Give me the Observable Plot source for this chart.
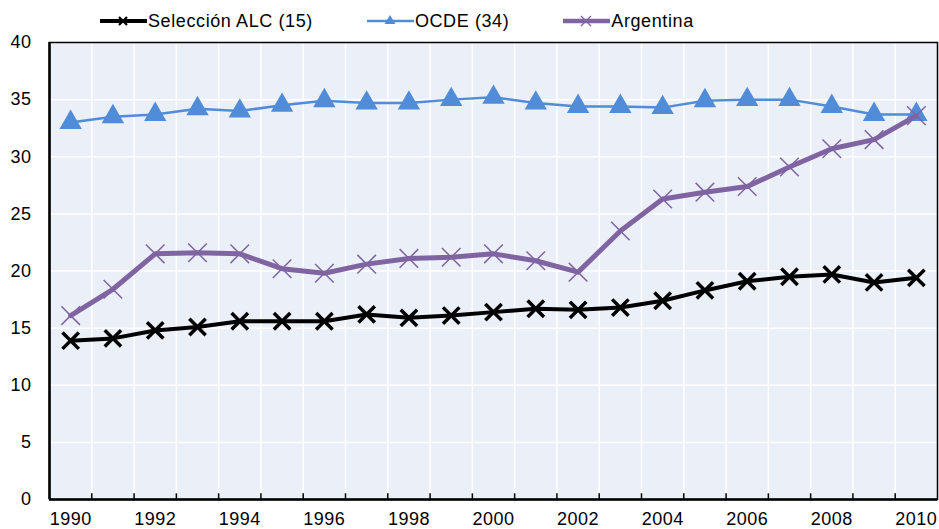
<!DOCTYPE html>
<html>
<head>
<meta charset="utf-8">
<script src="https://cdn.jsdelivr.net/npm/d3@7"></script>
<script src="https://cdn.jsdelivr.net/npm/@observablehq/plot@0.6"></script>
<style>
  body { margin: 0; background: #fff; font-family: "Liberation Sans", Arial, sans-serif; }
  #legend { height: 36px; box-sizing: border-box; padding-top: 6px; padding-left: 100px; display: flex; align-items: center; gap: 54px; font-size: 18px; letter-spacing: 0.6px; color: #000; }
  .item { display: flex; align-items: center; }
  .item svg { display: block; margin-right: 1px; }
  #chart svg { overflow: visible; }
</style>
</head>
<body>
<div id="legend"></div>
<div id="chart"></div>
<script>
const years = [1990,1991,1992,1993,1994,1995,1996,1997,1998,1999,2000,2001,2002,2003,2004,2005,2006,2007,2008,2009,2010];
const alcValues = [13.9,14.1,14.8,15.1,15.6,15.6,15.6,16.2,15.9,16.1,16.4,16.7,16.6,16.8,17.4,18.3,19.1,19.5,19.7,19.0,19.4];
const ocdeValues = [33.0,33.5,33.7,34.2,34.0,34.5,34.9,34.7,34.7,35.0,35.2,34.7,34.4,34.4,34.3,34.9,35.0,35.0,34.4,33.7,33.7];
const argValues = [16.1,18.4,21.5,21.6,21.5,20.2,19.8,20.6,21.1,21.2,21.5,20.9,19.9,23.5,26.3,26.9,27.4,29.1,30.7,31.5,33.6];
const seriesNames = ["Selección ALC (15)", "OCDE (34)", "Argentina"];
const yTicks = [0,5,10,15,20,25,30,35,40];
const xLabels = [1990,1992,1994,1996,1998,2000,2002,2004,2006,2008,2010];

const colors = {alc: "#000000", ocde: "#508CD8", arg: "#8064A2"};

const alc = years.map((y, i) => ({year: y, value: alcValues[i]}));
const ocde = years.map((y, i) => ({year: y, value: ocdeValues[i]}));
const arg = years.map((y, i) => ({year: y, value: argValues[i]}));
const boundaries = years.slice(0, -1).map(y => y + 0.5);

// Legend
const legend = document.getElementById("legend");
const swatches = [
  {name: seriesNames[0], color: colors.alc, width: 4, marker: "x", mw: 2.2, ms: 4},
  {name: seriesNames[1], color: colors.ocde, width: 2.5, marker: "tri"},
  {name: seriesNames[2], color: colors.arg, width: 4.5, marker: "x", mw: 1.3, ms: 5}
];
for (const s of swatches) {
  const div = document.createElement("div");
  div.className = "item";
  let m = "";
  if (s.marker === "x") {
    m = `<path d="M${23-s.ms},${12-s.ms}L${23+s.ms},${12+s.ms}M${23-s.ms},${12+s.ms}L${23+s.ms},${12-s.ms}" stroke="${s.color}" stroke-width="${s.mw}"/>`;
  } else {
    m = `<path d="M23,6L28.5,15L17.5,15Z" fill="${s.color}"/>`;
  }
  div.innerHTML = `<svg width="47" height="24"><line x1="0" x2="47" y1="12" y2="12" stroke="${s.color}" stroke-width="${s.width}"/>${m}</svg><span>${s.name}</span>`;
  legend.appendChild(div);
}

const chart = Plot.plot({
  width: 939,
  height: 493,
  marginLeft: 49,
  marginRight: 2,
  marginTop: 6,
  marginBottom: 30,
  style: {fontFamily: "'Liberation Sans', Arial, sans-serif", fontSize: "18px", color: "#000", background: "#fff", overflow: "visible", letterSpacing: "0.5px"},
  x: {type: "linear", domain: [1989.5, 2010.5]},
  y: {domain: [0, 40]},
  marks: [
    Plot.frame({fill: "#EAEFF8", stroke: null}),
    Plot.gridY(yTicks, {stroke: "#fff", strokeOpacity: 1, strokeWidth: 1.5}),
    Plot.gridX(boundaries, {stroke: "#fff", strokeOpacity: 1, strokeWidth: 1.5}),
    Plot.axisY(yTicks, {tickSize: 0, tickPadding: 18, fontSize: 18, tickFormat: d => d, label: null}),
    Plot.axisX(xLabels, {tickSize: 0, tickPadding: 13, fontSize: 18, tickFormat: d => String(d), label: null}),
    Plot.ruleX(boundaries, {y1: 0, y2: 0.5, stroke: "#000", strokeWidth: 1.5}),
    Plot.line(ocde, {x: "year", y: "value", stroke: colors.ocde, strokeWidth: 2.5}),
    Plot.dot(ocde, {x: "year", y: "value", symbol: "triangle", r: 8.3, fill: colors.ocde, stroke: null}),
    Plot.line(arg, {x: "year", y: "value", stroke: colors.arg, strokeWidth: 5}),
    Plot.dot(arg, {x: "year", y: "value", symbol: "times", r: 8.5, stroke: colors.arg, strokeWidth: 1.5}),
    Plot.line(alc, {x: "year", y: "value", stroke: colors.alc, strokeWidth: 4}),
    Plot.dot(alc, {x: "year", y: "value", symbol: "times", r: 7.5, stroke: colors.alc, strokeWidth: 3.5}),
    Plot.frame({stroke: "#000", strokeWidth: 1.5}),
    Plot.ruleY([0], {stroke: "#000", strokeWidth: 2.5}),
    Plot.ruleX([1989.5], {stroke: "#000", strokeWidth: 2.5})
  ]
});
document.getElementById("chart").appendChild(chart);
</script>
</body>
</html>
